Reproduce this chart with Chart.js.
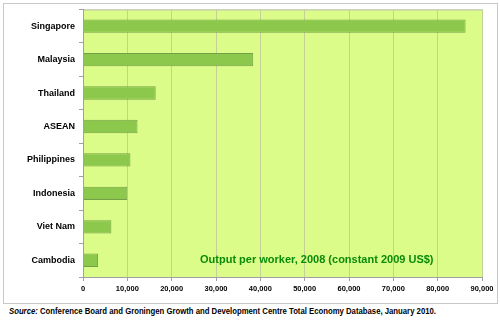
<!DOCTYPE html>
<html>
<head>
<meta charset="utf-8">
<script src="https://cdn.jsdelivr.net/npm/chart.js@4"></script>
<style>
  body { margin: 0; background: #fff; font-family: 'Liberation Sans', Arial, sans-serif; }
  #cadre { position: absolute; left: 3px; top: 3px; width: 493px; height: 299px; border: 1px solid #c8c8c8; }
  #zone { position: absolute; left: 0; top: 0; width: 500px; height: 304px; }
  #source { position: absolute; left: 9px; top: 306px; font-size: 9px; font-weight: bold; color: #000; white-space: nowrap;
            transform: scaleX(0.86); transform-origin: left top; }
</style>
</head>
<body>
<div id="cadre"></div>
<div id="zone"><canvas id="grafico"></canvas></div>
<div id="source"><i>Source:</i> Conference Board and Groningen Growth and Development Centre Total Economy Database, January 2010.</div>
<script>
// Données
const pays = ['Singapore', 'Malaysia', 'Thailand', 'ASEAN', 'Philippines', 'Indonesia', 'Viet Nam', 'Cambodia'];
const production = [86300, 38400, 16400, 12300, 10700, 10000, 6400, 3400];
const titreInterne = 'Output per worker, 2008 (constant 2009 US$)';

// Fond vert clair de la zone de tracé + annotation
const fondPlugin = {
    id: 'fond',
    beforeDraw(chart) {
        const { ctx, chartArea: a } = chart;
        ctx.save();
        ctx.fillStyle = '#dcfc8a';
        ctx.fillRect(a.left, a.top, a.right - a.left, a.bottom - a.top);
        ctx.strokeStyle = '#b8b8b8';
        ctx.lineWidth = 1;
        ctx.strokeRect(a.left + 0.5, a.top + 0.5, a.right - a.left, a.bottom - a.top);
        ctx.restore();
    },
    afterDraw(chart) {
        const { ctx } = chart;
        ctx.save();
        ctx.font = "bold 11px 'Liberation Sans', Arial";
        ctx.fillStyle = '#0a8c0a';
        ctx.textAlign = 'left';
        ctx.textBaseline = 'middle';
        ctx.fillText(titreInterne, 200, 260);
        ctx.restore();
    }
};

const grafico = new Chart(document.getElementById('grafico').getContext('2d'), {
    type: 'bar',
    data: {
        labels: pays,
        datasets: [{
            data: production,
            backgroundColor: '#8cc84b',
            borderColor: '#74a04a',
            borderWidth: 1,
            categoryPercentage: 1,
            barPercentage: 0.4
        }]
    },
    options: {
        indexAxis: 'y',
        responsive: true,
        maintainAspectRatio: false,
        animation: false,
        layout: { padding: { left: 0, right: 18, top: 7, bottom: 0 } },
        plugins: {
            legend: { display: false },
            tooltip: { enabled: false }
        },
        scales: {
            x: {
                min: 0,
                max: 90000,
                afterFit: s => { s.height = 27; },
                ticks: {
                    stepSize: 10000,
                    color: '#000',
                    padding: 3,
                    font: { family: "'Liberation Sans', Arial", size: 7.5, weight: 'bold' },
                    callback: v => v.toLocaleString('en-US')
                },
                grid: { color: '#c4d094', tickColor: '#a0a0a0', tickLength: 4 },
                border: { color: '#a0a0a0' }
            },
            y: {
                afterFit: s => { s.width = 83; },
                ticks: {
                    color: '#000',
                    padding: 4,
                    font: { family: "'Liberation Sans', Arial", size: 9, weight: 'bold' }
                },
                grid: { offset: true, drawOnChartArea: false, tickColor: '#a0a0a0', tickLength: 4 },
                border: { color: '#a0a0a0' }
            }
        }
    },
    plugins: [fondPlugin]
});
</script>
</body>
</html>
